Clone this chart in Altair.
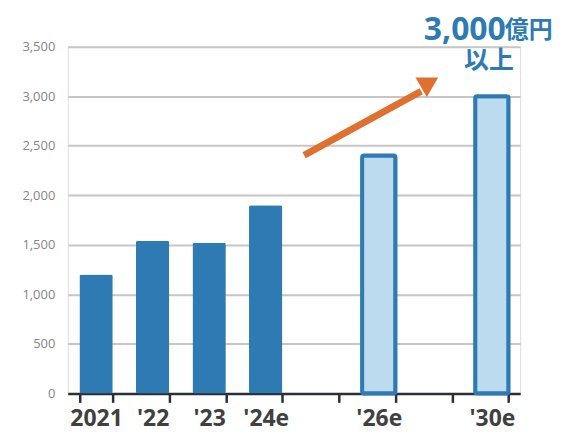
import json
import altair as alt
import pandas as pd

# ---- data ----
categories = ["2021", "'22", "'23", "'24e", "'25", "'26e", "'28", "'30e"]
shown_labels = ["2021", "'22", "'23", "'24e", "", "'26e", "", "'30e"]
actual_cats = ["2021", "'22", "'23", "'24e"]
actual_values = [1200, 1540, 1520, 1900]
forecast_cats = ["'26e", "'30e"]
forecast_values = [2400, 3000]
y_ticks = [0, 500, 1000, 1500, 2000, 2500, 3000, 3500]

# arrow in (band-index, value) coords
arrow_x = [4.18, 6.25]
arrow_y = [2404, 3050]
head_x = [6.40]
head_y = [3140]

BLUE = "#2E7BB4"
LIGHT = "#BDDBEE"
ORANGE = "#E0702F"

label_map = json.dumps(dict(zip(categories, shown_labels)))

W, H = 454, 348

xscale = alt.Scale(domain=categories, paddingInner=0.41, paddingOuter=0.205)
yscale = alt.Scale(domain=[0, 3500], nice=False)

xaxis = alt.Axis(labelExpr=f"{label_map}[datum.value]", labelAngle=0,
                 labelFont="Open Sans", labelFontSize=23, labelFontWeight="bold",
                 labelColor="#404040", domainColor="#2B2F36", domainWidth=2.5,
                 tickColor="#2B2F36", tickWidth=2.5, tickSize=9, tickBand="extent",
                 labelPadding=5, grid=False)
yaxis = alt.Axis(values=y_ticks, format=",", labelExpr="format(datum.value, ',')",
                 labelFont="Open Sans", labelFontSize=13, labelColor="#858585",
                 ticks=False, domain=False, labelPadding=13, gridColor="#C6C6C6",
                 gridWidth=2)


def X(field):
    return alt.X(field, scale=xscale, sort=categories, title=None, axis=xaxis)


def Y(field):
    return alt.Y(field, scale=yscale, title=None, axis=yaxis)


df_a = pd.DataFrame({"cat": actual_cats, "value": actual_values})
df_f = pd.DataFrame({"cat": forecast_cats, "value": forecast_values})

bars_a = alt.Chart(df_a).mark_bar(cornerRadius=2, color=BLUE).encode(x=X("cat:N"), y=Y("value:Q"))
bars_f = alt.Chart(df_f).mark_bar(cornerRadius=2, fill=LIGHT, stroke=BLUE, strokeWidth=4).encode(
    x=X("cat:N"), y=Y("value:Q"))

ann1 = pd.DataFrame({"cat": ["'30e"], "y": [3668], "t": ["3,000"]})
ann2 = pd.DataFrame({"cat": ["'30e"], "y": [3668], "t": ["億円"]})
ann3 = pd.DataFrame({"cat": ["'30e"], "y": [3352], "t": ["以上"]})


def txt(d, **kw):
    return alt.Chart(d).mark_text(color=BLUE, fontWeight="bold", baseline="middle", **kw).encode(
        x=X("cat:N"), y=Y("y:Q"), text="t:N")


t1 = txt(ann1, font="Open Sans", fontSize=32, align="right", dx=14)
t2 = txt(ann2, font="Noto Sans CJK JP", fontSize=24, align="left", dx=13, dy=1)
t3 = txt(ann3, font="Noto Sans CJK JP", fontSize=25, align="center", dx=-3)

inner = alt.layer(bars_a, bars_f, t1, t2, t3)

xq = alt.Scale(domain=[0, 8], nice=False)
arrow_df = pd.DataFrame({"x": [arrow_x[0]], "x2": [arrow_x[1]], "y": [arrow_y[0]], "y2": [arrow_y[1]]})
arrow = alt.Chart(arrow_df).mark_rule(color=ORANGE, strokeWidth=7).encode(
    x=alt.X("x:Q", scale=xq, axis=None), x2="x2:Q",
    y=Y("y:Q"), y2="y2:Q")
head_df = pd.DataFrame({"x": head_x, "y": head_y})
head = alt.Chart(head_df).mark_point(shape="triangle-right", filled=True, color=ORANGE,
                                     opacity=1, size=520, angle=330).encode(
    x=alt.X("x:Q", scale=xq, axis=None),
    y=Y("y:Q"))

chart = alt.layer(inner, arrow, head).resolve_scale(x="independent").properties(
    width=W, height=H, autosize=alt.AutoSizeParams(type="none"),
    padding={"left": 60, "top": 38, "right": 40, "bottom": 44}
).configure_view(stroke=None).configure(background="white")

chart.save("out.html", embed_options={"renderer": "svg", "actions": False})
